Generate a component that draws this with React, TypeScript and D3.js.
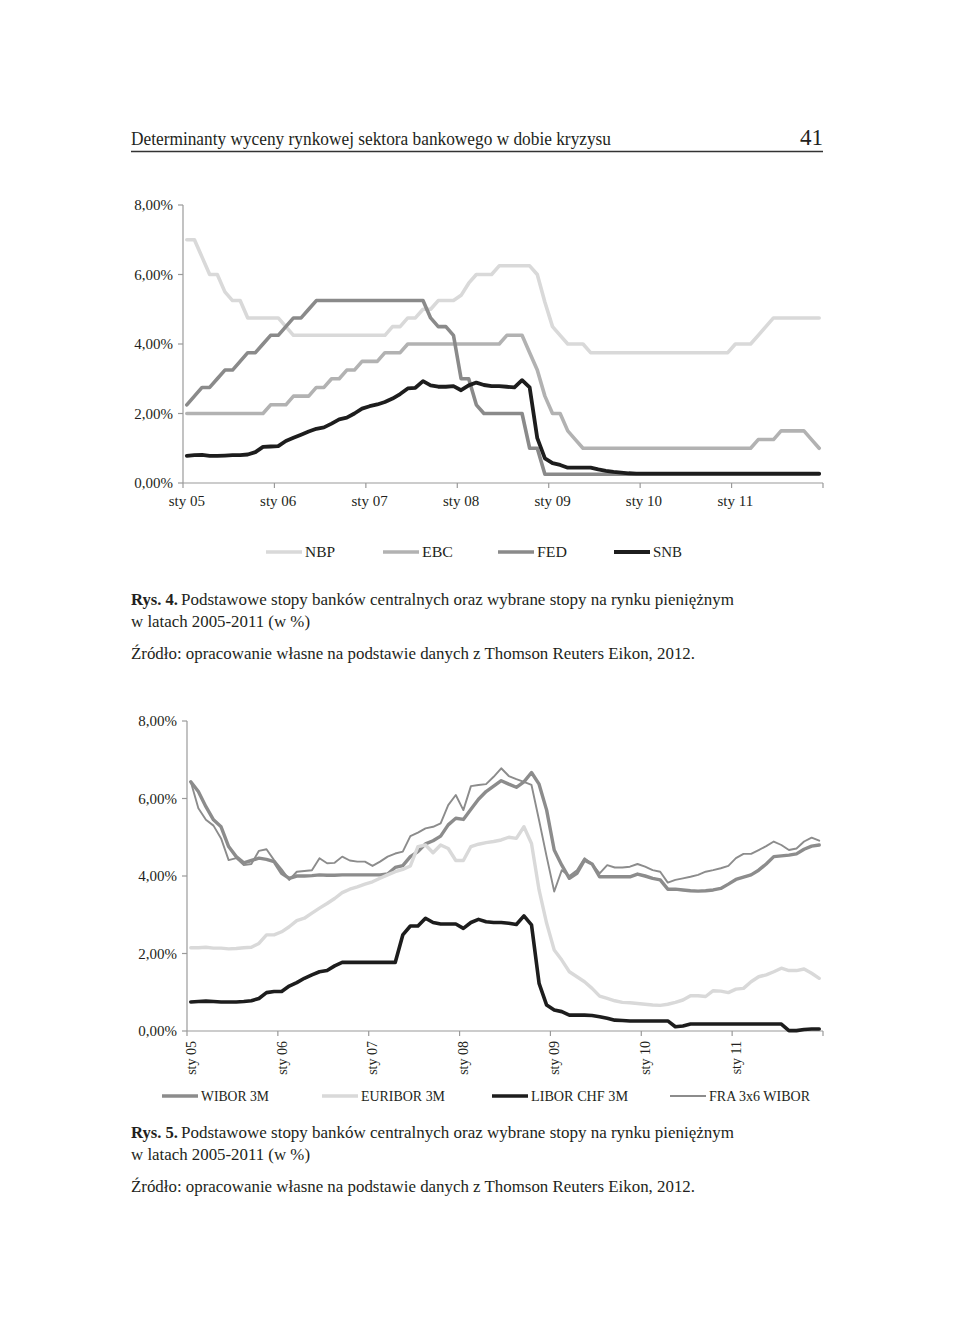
import React from 'react';
import * as d3 from 'd3';

const YEARS = ['05', '06', '07', '08', '09', '10', '11'];
const MONTHS: string[] = YEARS.flatMap((y) => d3.range(1, 13).map((m) => `${m}/${y}`));
const TICK_LABELS = YEARS.map((y) => `sty ${y}`);
const Y_TICKS = [0, 2, 4, 6, 8];

// Rys. 4 – central bank rates
const NBP = [7.0, 7.0, 6.5, 6.0, 6.0, 5.5, 5.25, 5.25, 4.75, 4.75, 4.75, 4.75, 4.75, 4.5,
  4.25, 4.25, 4.25, 4.25, 4.25, 4.25, 4.25, 4.25, 4.25, 4.25, 4.25, 4.25, 4.25,
  4.5, 4.5, 4.75, 4.75, 5.0, 5.0, 5.25, 5.25, 5.25, 5.4, 5.75, 6.0, 6.0, 6.0,
  6.25, 6.25, 6.25, 6.25, 6.25, 6.0, 5.2, 4.5, 4.25, 4.0, 4.0, 4.0,
  3.75, 3.75, 3.75, 3.75, 3.75, 3.75, 3.75, 3.75, 3.75, 3.75, 3.75, 3.75, 3.75, 3.75, 3.75, 3.75, 3.75, 3.75, 3.75,
  4.0, 4.0, 4.0, 4.25, 4.5,
  4.75, 4.75, 4.75, 4.75, 4.75, 4.75, 4.75];
const EBC = [2.0, 2.0, 2.0, 2.0, 2.0, 2.0, 2.0, 2.0, 2.0, 2.0, 2.0,
  2.25, 2.25, 2.25, 2.5, 2.5, 2.5, 2.75, 2.75, 3.0, 3.0, 3.25, 3.25, 3.5, 3.5, 3.5, 3.75, 3.75, 3.75,
  4.0, 4.0, 4.0, 4.0, 4.0, 4.0, 4.0, 4.0, 4.0, 4.0, 4.0, 4.0, 4.0,
  4.25, 4.25, 4.25, 3.75, 3.25, 2.5, 2.0, 2.0, 1.5, 1.25,
  1.0, 1.0, 1.0, 1.0, 1.0, 1.0, 1.0, 1.0, 1.0, 1.0, 1.0, 1.0, 1.0, 1.0, 1.0, 1.0, 1.0, 1.0, 1.0, 1.0, 1.0, 1.0, 1.0,
  1.25, 1.25, 1.25, 1.5, 1.5, 1.5, 1.5, 1.25, 1.0];
const FED = [2.25, 2.5, 2.75, 2.75, 3.0, 3.25, 3.25, 3.5, 3.75, 3.75, 4.0, 4.25, 4.25, 4.5, 4.75, 4.75, 5.0,
  5.25, 5.25, 5.25, 5.25, 5.25, 5.25, 5.25, 5.25, 5.25, 5.25, 5.25, 5.25, 5.25, 5.25, 5.25,
  4.75, 4.5, 4.5, 4.25, 3.0, 3.0, 2.25, 2.0, 2.0, 2.0, 2.0, 2.0, 2.0, 1.0, 1.0,
  0.25, 0.25, 0.25, 0.25, 0.25, 0.25, 0.25, 0.25, 0.25, 0.25, 0.25, 0.25, 0.25, 0.25, 0.25, 0.25, 0.25, 0.25, 0.25,
  0.25, 0.25, 0.25, 0.25, 0.25, 0.25, 0.25, 0.25, 0.25, 0.25, 0.25, 0.25, 0.25, 0.25, 0.25, 0.25, 0.25, 0.25];
const SNB = [0.78, 0.80, 0.81, 0.78, 0.78, 0.79, 0.80, 0.80, 0.82, 0.89, 1.04, 1.05, 1.06, 1.21, 1.30, 1.39,
  1.48, 1.56, 1.60, 1.71, 1.83, 1.88, 2.00, 2.14, 2.21, 2.26, 2.33, 2.43, 2.56, 2.72, 2.74, 2.93, 2.81,
  2.77, 2.77, 2.79, 2.67, 2.81, 2.89, 2.82, 2.79, 2.79, 2.77, 2.75, 2.96, 2.75, 1.29, 0.71, 0.57, 0.52,
  0.44, 0.44, 0.44, 0.44, 0.39, 0.35, 0.32, 0.30, 0.28,
  0.27, 0.27, 0.27, 0.27, 0.27, 0.27, 0.27, 0.27, 0.27, 0.27, 0.27, 0.27, 0.27, 0.27, 0.27, 0.27, 0.27,
  0.27, 0.27, 0.27, 0.27, 0.27, 0.27, 0.27, 0.27];

// Rys. 5 – money market rates
const WIBOR_3M = [6.43, 6.18, 5.79, 5.45, 5.27, 4.76, 4.50, 4.34, 4.40, 4.46, 4.43, 4.37, 4.07, 3.94, 4.00,
  4.00, 4.01, 4.03, 4.02, 4.02, 4.03, 4.03, 4.03, 4.03, 4.03, 4.03, 4.05, 4.22, 4.27, 4.50, 4.63, 4.83,
  4.91, 5.03, 5.32, 5.49, 5.46, 5.72, 5.98, 6.18, 6.32, 6.46, 6.37, 6.29, 6.43, 6.67, 6.37, 5.70, 4.67,
  4.28, 3.94, 4.07, 4.41, 4.31, 3.98, 3.98, 3.98, 3.98, 3.98, 4.05, 4.00, 3.94, 3.90, 3.66, 3.66, 3.64,
  3.62, 3.61, 3.62, 3.64, 3.68, 3.79, 3.91, 3.97, 4.03, 4.15, 4.31, 4.50, 4.52, 4.54, 4.57, 4.69, 4.77, 4.80];
const EURIBOR_3M = [2.15, 2.15, 2.16, 2.14, 2.14, 2.12, 2.13, 2.15, 2.16, 2.26, 2.48, 2.48, 2.56, 2.69, 2.85,
  2.91, 3.04, 3.17, 3.29, 3.42, 3.57, 3.66, 3.72, 3.79, 3.85, 3.94, 4.03, 4.11, 4.17, 4.26, 4.76, 4.80,
  4.60, 4.80, 4.71, 4.40, 4.40, 4.76, 4.82, 4.86, 4.89, 4.93, 5.00, 4.97, 5.27, 4.84, 3.64, 2.78, 2.09,
  1.83, 1.53, 1.40, 1.27, 1.10, 0.90, 0.84, 0.78, 0.74, 0.73, 0.71, 0.69, 0.67, 0.66, 0.69, 0.74, 0.80,
  0.91, 0.91, 0.89, 1.04, 1.03, 0.99, 1.08, 1.10, 1.27, 1.40, 1.45, 1.53, 1.62, 1.56, 1.56, 1.60, 1.49, 1.36];
const LIBOR_CHF_3M = [0.75, 0.76, 0.77, 0.76, 0.75, 0.75, 0.75, 0.76, 0.78, 0.84, 0.99, 1.02, 1.02, 1.16,
  1.25, 1.36, 1.45, 1.53, 1.56, 1.68, 1.77, 1.77, 1.77, 1.77, 1.77, 1.77, 1.77, 1.77, 2.48, 2.71, 2.71,
  2.91, 2.80, 2.76, 2.76, 2.76, 2.65, 2.80, 2.88, 2.82, 2.80, 2.80, 2.78, 2.75, 2.97, 2.74, 1.23, 0.67,
  0.54, 0.50, 0.41, 0.41, 0.41, 0.40, 0.37, 0.33, 0.28, 0.27, 0.26, 0.26, 0.26, 0.26, 0.26, 0.26, 0.11,
  0.13, 0.18, 0.18, 0.18, 0.18, 0.18, 0.18, 0.18, 0.18, 0.18, 0.18, 0.18, 0.18, 0.18, 0.01, 0.01, 0.04, 0.05, 0.05];
const FRA_3X6_WIBOR = [6.43, 5.75, 5.45, 5.30, 4.97, 4.41, 4.46, 4.28, 4.31, 4.65, 4.69, 4.41, 4.17, 3.90,
  4.11, 4.13, 4.15, 4.46, 4.33, 4.34, 4.50, 4.40, 4.37, 4.37, 4.26, 4.37, 4.50, 4.58, 4.63, 5.03, 5.12,
  5.23, 5.27, 5.36, 5.83, 6.09, 5.70, 6.32, 6.35, 6.37, 6.56, 6.78, 6.58, 6.50, 6.43, 6.35, 5.44, 4.50,
  3.60, 4.15, 4.00, 4.15, 4.46, 4.31, 4.07, 4.28, 4.22, 4.22, 4.24, 4.31, 4.24, 4.15, 4.11, 3.83, 3.90,
  3.94, 3.98, 4.03, 4.11, 4.15, 4.20, 4.26, 4.46, 4.57, 4.57, 4.67, 4.77, 4.89, 4.80, 4.67, 4.71, 4.89, 4.99, 4.91];

const SERIF = '"Liberation Serif", "Times New Roman", serif';
const TXT = '#231f20';
const AXIS = '#9a9a9a';

type Series = { name: string; values: number[]; color: string; width: number; legendX: number; labelW: number };

const TOP_SERIES: Series[] = [
  { name: 'NBP', values: NBP, color: '#d9d9d9', width: 3.6, legendX: 266, labelW: 30 },
  { name: 'EBC', values: EBC, color: '#b2b2b2', width: 3.6, legendX: 383, labelW: 31 },
  { name: 'FED', values: FED, color: '#8a8a8a', width: 3.6, legendX: 498, labelW: 30 },
  { name: 'SNB', values: SNB, color: '#1d1d1d', width: 3.8, legendX: 614, labelW: 29 },
];
const BOTTOM_SERIES: Series[] = [
  { name: 'WIBOR 3M', values: WIBOR_3M, color: '#8c8c8c', width: 3.4, legendX: 162, labelW: 68 },
  { name: 'EURIBOR 3M', values: EURIBOR_3M, color: '#d9d9d9', width: 3.4, legendX: 322, labelW: 84 },
  { name: 'LIBOR CHF 3M', values: LIBOR_CHF_3M, color: '#1d1d1d', width: 3.6, legendX: 492, labelW: 97 },
  { name: 'FRA 3x6 WIBOR', values: FRA_3X6_WIBOR, color: '#8c8c8c', width: 1.9, legendX: 670, labelW: 101 },
];

function fmtPct(v: number) {
  return `${v.toFixed(2).replace('.', ',')}%`;
}

type ChartProps = {
  series: Series[];
  x0: number; x1: number; yTop: number; yBottom: number;
  rotatedLabels: boolean; legendY: number; yLabelX: number;
};

function LineChart({ series, x0, x1, yTop, yBottom, rotatedLabels, legendY, yLabelX }: ChartProps) {
  const x = d3.scalePoint<string>().domain(MONTHS).range([x0, x1]).padding(0.5);
  const y = d3.scaleLinear().domain([0, 8]).range([yBottom, yTop]);
  const line = d3.line<number>().x((_, i) => x(MONTHS[i]) as number).y((d) => y(d));
  const yearTicks = d3.range(8).map((k) => x0 + (k * (x1 - x0)) / 7);
  return (
    <g>
      {/* axes */}
      <line x1={x0} x2={x0} y1={yTop} y2={yBottom} stroke={AXIS} strokeWidth={1.2} />
      <line x1={x0} x2={x1} y1={yBottom} y2={yBottom} stroke={AXIS} strokeWidth={1.2} />
      {Y_TICKS.map((t) => (
        <g key={t}>
          <line x1={x0 - 5} x2={x0} y1={y(t)} y2={y(t)} stroke={AXIS} strokeWidth={1.2} />
          <text x={yLabelX} y={y(t)} dy="0.35em" textAnchor="end" fontFamily={SERIF} fontSize={15} fill={TXT}>
            {fmtPct(t)}
          </text>
        </g>
      ))}
      {yearTicks.map((tx, k) => (
        <line key={k} x1={tx} x2={tx} y1={yBottom} y2={yBottom + 5} stroke={AXIS} strokeWidth={1.2} />
      ))}
      {TICK_LABELS.map((lab, k) => {
        const cx = x(MONTHS[k * 12]) as number;
        return rotatedLabels ? (
          <text key={lab} transform={`translate(${cx},${yBottom + 10}) rotate(-90)`} dy="0.35em" textAnchor="end"
            fontFamily={SERIF} fontSize={14} fill={TXT}>{lab}</text>
        ) : (
          <text key={lab} x={cx} y={yBottom + 23} textAnchor="middle" fontFamily={SERIF} fontSize={15} fill={TXT}>{lab}</text>
        );
      })}
      {/* series */}
      {series.map((s) => (
        <path key={s.name} d={line(s.values) || ''} fill="none" stroke={s.color} strokeWidth={s.width}
          strokeLinejoin="round" strokeLinecap="round" />
      ))}
      {/* legend */}
      {series.map((s) => (
        <g key={s.name}>
          <line x1={s.legendX} x2={s.legendX + 36} y1={legendY} y2={legendY} stroke={s.color} strokeWidth={s.width} />
          <text x={s.legendX + 39} y={legendY} dy="0.35em" fontFamily={SERIF} fontSize={15.5} fill={TXT}
            textLength={s.labelW} lengthAdjust="spacingAndGlyphs">{s.name}</text>
        </g>
      ))}
    </g>
  );
}

function Caption({ num, y }: { num: number; y: number }) {
  return (
    <g fontFamily={SERIF} fill={TXT} fontSize={17}>
      <text x={131} y={y} fontWeight="bold" textLength={47} lengthAdjust="spacingAndGlyphs">{`Rys. ${num}.`}</text>
      <text x={181} y={y} textLength={553} lengthAdjust="spacingAndGlyphs">
        Podstawowe stopy banków centralnych oraz wybrane stopy na rynku pieniężnym
      </text>
      <text x={131} y={y + 22} textLength={179} lengthAdjust="spacingAndGlyphs">w latach 2005-2011 (w %)</text>
      <text x={131} y={y + 54} textLength={564} lengthAdjust="spacingAndGlyphs">
        Źródło: opracowanie własne na podstawie danych z Thomson Reuters Eikon, 2012.
      </text>
    </g>
  );
}

export default function App() {
  return (
    <svg width={960} height={1332} viewBox="0 0 960 1332"
      style={{ position: 'absolute', left: 0, top: 0, background: '#fff' }}>
      <rect x={0} y={0} width={960} height={1332} fill="#fff" />
      <text x={131} y={145} fontFamily={SERIF} fontSize={18.5} fill={TXT} textLength={480} lengthAdjust="spacingAndGlyphs">
        Determinanty wyceny rynkowej sektora bankowego w dobie kryzysu
      </text>
      <text x={823} y={145} fontFamily={SERIF} fontSize={23} fill={TXT} textAnchor="end">41</text>
      <line x1={131} x2={823} y1={151.5} y2={151.5} stroke="#333" strokeWidth={1.4} />

      <LineChart series={TOP_SERIES} x0={183} x1={823} yTop={205} yBottom={483}
        rotatedLabels={false} legendY={552} yLabelX={173} />
      <Caption num={4} y={605} />

      <LineChart series={BOTTOM_SERIES} x0={187} x1={823} yTop={721} yBottom={1031}
        rotatedLabels={true} legendY={1096} yLabelX={177} />
      <Caption num={5} y={1138} />
    </svg>
  );
}
